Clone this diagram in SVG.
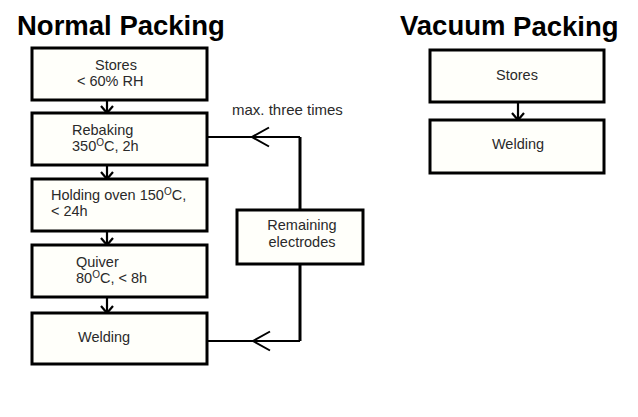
<svg xmlns="http://www.w3.org/2000/svg" width="638" height="417" viewBox="0 0 638 417">
<defs>
<style>
.box{fill:#fffffa;stroke:#000;stroke-width:3}
.t{font-family:"Liberation Sans",Arial,sans-serif;font-size:14.5px;fill:#2a2a2a}
.title{font-family:"Liberation Sans",Arial,sans-serif;font-size:27.5px;font-weight:bold;fill:#000}
.sup{font-size:10px}
.c{fill:none;stroke:#000;stroke-width:2.2}
.cv{fill:none;stroke:#000;stroke-width:3}
</style>
<marker id="down" markerUnits="userSpaceOnUse" markerWidth="20" markerHeight="20" viewBox="-10 -10 20 20" refX="0" refY="0" orient="auto" overflow="visible">
<path d="M-7,-6 L0,0 L-7,6" fill="none" stroke="#000" stroke-width="2.2"/>
</marker>
<marker id="big" markerUnits="userSpaceOnUse" markerWidth="40" markerHeight="40" viewBox="-20 -20 40 40" refX="0" refY="0" orient="auto" overflow="visible">
<path d="M-17,-9.5 L0,0 L-17,9.5" fill="none" stroke="#000" stroke-width="2"/>
</marker>
</defs>
<rect width="638" height="417" fill="#fff"/>
<text class="title" x="17" y="35">Normal Packing</text>
<text class="title" x="400" y="35">Vacuum <tspan dy="1">Packing</tspan></text>

<g id="connectors">
<path class="c" d="M107,100 V113" marker-end="url(#down)"/>
<path class="c" d="M107,165 V179" marker-end="url(#down)"/>
<path class="c" d="M107,231 V245" marker-end="url(#down)"/>
<path class="c" d="M107,297 V313" marker-end="url(#down)"/>
<path class="c" d="M518,102 V120" marker-end="url(#down)"/>
<path class="cv" d="M300,210 V137"/>
<path class="c" d="M300,137 L252,137 L207,137" marker-mid="url(#big)"/>
<path class="cv" d="M300,264 V341"/>
<path class="c" d="M300,341 L253,341 L207,341" marker-mid="url(#big)"/>
<text class="t" x="232" y="115" style="font-size:15px">max. three times</text>
</g>

<g id="n-stores">
<rect class="box" x="32" y="48" width="175" height="52"/>
<text class="t" x="95" y="70">Stores</text>
<text class="t" x="77" y="86">&lt; 60% RH</text>
</g>
<g id="n-rebaking">
<rect class="box" x="32" y="113" width="175" height="52"/>
<text class="t" x="72" y="135">Rebaking</text>
<text class="t" x="72" y="151">350<tspan class="sup" dy="-5">O</tspan><tspan dy="5">C, 2h</tspan></text>
</g>
<g id="n-holding">
<rect class="box" x="32" y="179" width="175" height="52"/>
<text class="t" x="51" y="200">Holding oven 150<tspan class="sup" dy="-5">O</tspan><tspan dy="5">C,</tspan></text>
<text class="t" x="51" y="216">&lt; 24h</text>
</g>
<g id="n-quiver">
<rect class="box" x="32" y="245" width="175" height="52"/>
<text class="t" x="76" y="267">Quiver</text>
<text class="t" x="76" y="283">80<tspan class="sup" dy="-5">O</tspan><tspan dy="5">C, &lt; 8h</tspan></text>
</g>
<g id="n-welding">
<rect class="box" x="32" y="313" width="175" height="51"/>
<text class="t" x="78" y="342">Welding</text>
</g>
<g id="n-remaining">
<rect class="box" x="237" y="210" width="126" height="54"/>
<text class="t" x="302" y="230" text-anchor="middle">Remaining</text>
<text class="t" x="302" y="247" text-anchor="middle">electrodes</text>
</g>
<g id="v-stores">
<rect class="box" x="430" y="50" width="174" height="52"/>
<text class="t" x="517" y="80" text-anchor="middle">Stores</text>
</g>
<g id="v-welding">
<rect class="box" x="430" y="120" width="174" height="53"/>
<text class="t" x="518" y="149" text-anchor="middle">Welding</text>
</g>
</svg>
